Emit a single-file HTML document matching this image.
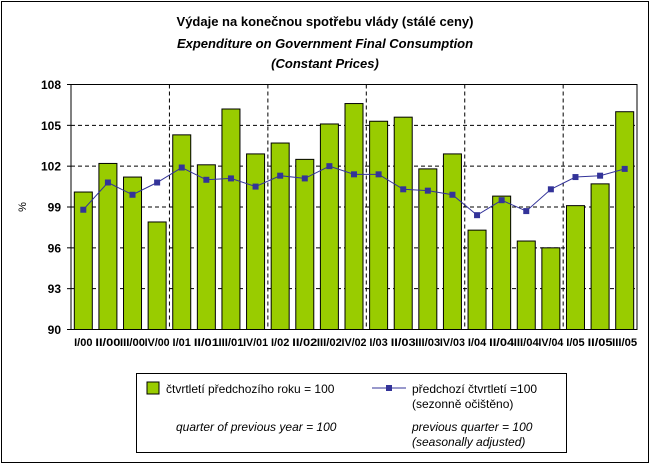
<!DOCTYPE html>
<html><head><meta charset="utf-8"><style>body{margin:0;background:#fff}svg{display:block;font-family:"Liberation Sans",Arial,sans-serif}</style></head><body>
<svg width="651" height="465" viewBox="0 0 651 465">
<rect x="1.5" y="1.5" width="647" height="461" fill="#fff" stroke="#000"/>
<text x="325" y="26" text-anchor="middle" font-size="13" font-weight="bold">Výdaje na konečnou spotřebu vlády (stálé ceny)</text>
<text x="325" y="48" text-anchor="middle" font-size="13" font-weight="bold" font-style="italic">Expenditure on Government Final Consumption</text>
<text x="325" y="68" text-anchor="middle" font-size="13" font-weight="bold" font-style="italic">(Constant Prices)</text>
<g id="plot"></g>
<rect x="136.5" y="373.5" width="430" height="79" fill="#fff" stroke="#000"/>
<rect x="147" y="382" width="12" height="12" fill="#99cc00" stroke="#000"/>
<text x="166" y="393" font-size="12">čtvrtletí předchozího roku = 100</text>
<line x1="372" y1="388" x2="406" y2="388" stroke="#333399"/>
<rect x="386" y="385" width="6" height="6" fill="#333399"/>
<text x="412" y="393" font-size="12">předchozí čtvrtletí =100</text>
<text x="412" y="408" font-size="12">(sezonně očištěno)</text>
<text x="176" y="431" font-size="12" font-style="italic">quarter of previous year = 100</text>
<text x="412" y="431" font-size="12" font-style="italic">previous quarter = 100</text>
<text x="412" y="446" font-size="12" font-style="italic">(seasonally adjusted)</text>
</svg>
<script>
const ns="http://www.w3.org/2000/svg",g=document.getElementById("plot");
function el(t,a,txt){const e=document.createElementNS(ns,t);for(const k in a)e.setAttribute(k,a[k]);if(txt)e.textContent=txt;g.appendChild(e);return e;}
const L=71,R=637,T=84.5,B=329.5,cw=(R-L)/23;
const Y=v=>B-(v-90)*(B-T)/18;
const bars=[100.1,102.2,101.2,97.9,104.3,102.1,106.2,102.9,103.7,102.5,105.1,106.6,105.3,105.6,101.8,102.9,97.3,99.8,96.5,96.0,99.1,100.7,106.0];
const line=[98.8,100.8,99.9,100.8,101.9,101.0,101.1,100.5,101.3,101.1,102.0,101.4,101.4,100.3,100.2,99.9,98.4,99.5,98.7,100.3,101.2,101.3,101.8];
const labs=["I/00","II/00","III/00","IV/00","I/01","II/01","III/01","IV/01","I/02","II/02","III/02","IV/02","I/03","II/03","III/03","IV/03","I/04","II/04","III/04","IV/04","I/05","II/05","III/05"];
for(let v=93;v<108;v+=3)el("line",{x1:L,x2:R,y1:Y(v),y2:Y(v),stroke:"#000","stroke-dasharray":"4,3"});
for(const i of [4,8,12,16,20])el("line",{x1:L+i*cw,x2:L+i*cw,y1:T,y2:B,stroke:"#000","stroke-dasharray":"4,3"});
bars.forEach((v,i)=>{const cx=L+(i+.5)*cw;el("rect",{x:cx-9,y:Y(v),width:18,height:B-Y(v),fill:"#99cc00",stroke:"#000"});
const a={x:cx,y:346,"text-anchor":"middle","font-size":"11","font-weight":"bold"};
if(labs[i].length>=5){a.textLength="25";a.lengthAdjust="spacingAndGlyphs";}
el("text",a,labs[i]);});
el("polyline",{points:line.map((v,i)=>(L+(i+.5)*cw)+","+Y(v)).join(" "),fill:"none",stroke:"#333399"});
line.forEach((v,i)=>el("rect",{x:L+(i+.5)*cw-3,y:Y(v)-3,width:6,height:6,fill:"#333399"}));
el("rect",{x:L,y:T,width:R-L,height:B-T,fill:"none",stroke:"#000"});
for(let v=90;v<=108;v+=3){el("line",{x1:L-4,x2:L,y1:Y(v),y2:Y(v),stroke:"#000"});el("text",{x:L-10,y:Y(v)+4.5,"text-anchor":"end","font-size":"12","font-weight":"bold"},String(v));}
el("text",{x:0,y:0,"font-size":"11",transform:"translate(26,207) rotate(-90)","text-anchor":"middle"},"%");
</script>
</body></html>
